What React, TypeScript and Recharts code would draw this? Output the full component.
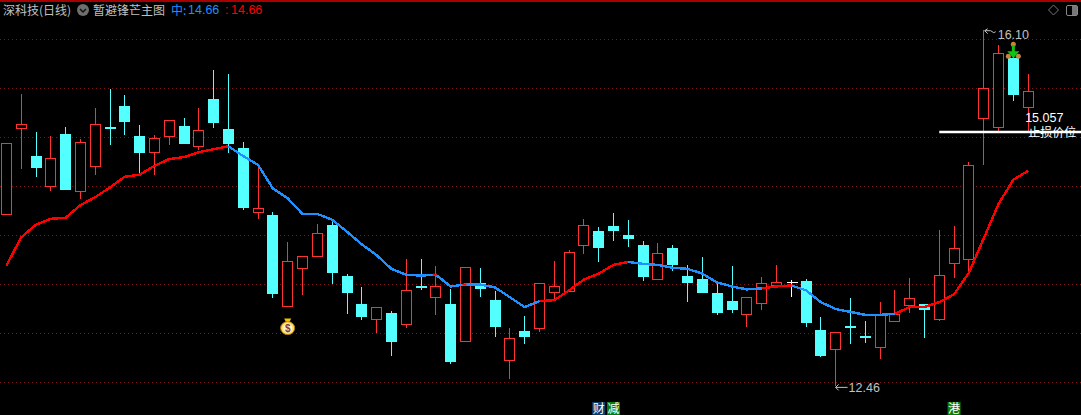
import React from 'react';
import {
  Bar,
  CartesianGrid,
  ComposedChart,
  Line,
  ReferenceDot,
  ReferenceLine,
  XAxis,
  YAxis,
} from 'recharts';

const opens = [
  14.22, 15.1, 14.81, 14.5, 15.04, 14.45, 14.71, 15.11, 15.32, 15.02,
  14.85, 15.02, 15.12, 14.91, 15.39, 15.09, 14.89, 14.24, 14.21, 13.28,
  13.67, 13.79, 14.11, 13.59, 13.3, 13.15, 13.21, 13.1, 13.48, 13.37,
  13.3, 12.92, 13.52, 13.34, 12.73, 13.03, 13.06, 13.42, 13.43, 13.9,
  14.05, 14.1, 14.0, 13.9, 13.56, 13.87, 13.59, 13.56, 13.41, 13.33,
  13.2, 13.31, 13.49, 13.53, 13.54, 13.04, 12.84, 13.08, 12.97, 12.86,
  13.13, 13.29, 13.3, 13.15, 13.72, 13.76, 15.2, 15.11, 15.81, 15.31,
];
const closes = [
  14.94, 15.14, 14.69, 14.79, 14.46, 14.95, 15.14, 15.1, 15.16, 14.84,
  14.99, 15.18, 14.93, 15.08, 15.15, 14.93, 14.28, 14.28, 13.4, 13.74,
  13.79, 14.03, 13.62, 13.41, 13.17, 13.27, 12.91, 13.44, 13.46, 13.48,
  12.71, 13.68, 13.45, 13.07, 12.95, 12.96, 13.51, 13.48, 13.83, 14.11,
  13.87, 14.05, 13.96, 13.58, 13.82, 13.7, 13.52, 13.41, 13.21, 13.24,
  13.37, 13.52, 13.53, 13.53, 13.11, 12.77, 13.01, 13.06, 12.95, 13.2,
  13.2, 13.36, 13.24, 13.6, 13.87, 14.72, 15.5, 15.86, 15.43, 15.47,
];
const highs = [
  14.94, 15.44, 15.06, 15.02, 15.11, 14.98, 15.3, 15.49, 15.43, 15.13,
  15.03, 15.18, 15.2, 15.3, 15.69, 15.65, 14.95, 14.73, 14.24, 13.93,
  13.79, 14.12, 14.14, 13.61, 13.47, 13.27, 13.23, 13.76, 13.76, 13.69,
  13.45, 13.68, 13.67, 13.43, 13.06, 13.18, 13.51, 13.74, 13.85, 14.17,
  14.09, 14.23, 14.16, 13.94, 13.92, 13.9, 13.7, 13.78, 13.51, 13.69,
  13.37, 13.58, 13.7, 13.55, 13.56, 13.17, 13.01, 13.36, 13.13, 13.32,
  13.44, 13.57, 13.3, 14.06, 14.1, 14.75, 16.1, 15.94, 15.86, 15.65,
];
const lows = [
  14.22, 14.68, 14.6, 14.45, 14.46, 14.37, 14.62, 14.92, 15.03, 14.64,
  14.62, 14.92, 14.93, 14.87, 15.1, 14.84, 14.26, 14.17, 13.36, 13.27,
  13.39, 13.79, 13.5, 13.2, 13.14, 13.0, 12.77, 13.06, 13.44, 13.19,
  12.69, 12.92, 13.37, 12.96, 12.54, 12.89, 13.02, 13.34, 13.43, 13.81,
  13.73, 13.94, 13.88, 13.54, 13.56, 13.64, 13.32, 13.41, 13.19, 13.21,
  13.07, 13.24, 13.49, 13.37, 13.07, 12.76, 12.46, 12.89, 12.9, 12.74,
  13.13, 13.21, 12.95, 13.13, 13.57, 13.61, 14.72, 15.07, 15.37, 15.06,
];
const midLine = [
  13.69, 13.98, 14.11, 14.17, 14.18, 14.31, 14.39, 14.49, 14.6, 14.62,
  14.71, 14.78, 14.8, 14.85, 14.88, 14.91, 14.81, 14.72, 14.48, 14.38,
  14.22, 14.22, 14.16, 14.04, 13.91, 13.8, 13.66, 13.6, 13.59, 13.6,
  13.48, 13.5, 13.5, 13.47, 13.37, 13.27, 13.33, 13.34, 13.44, 13.55,
  13.61, 13.7, 13.73, 13.71, 13.7, 13.67, 13.66, 13.61, 13.52, 13.48,
  13.45, 13.46, 13.48, 13.49, 13.44, 13.32, 13.25, 13.22, 13.19, 13.19,
  13.2, 13.27, 13.27, 13.32, 13.4, 13.62, 13.97, 14.32, 14.57, 14.66,
];
// index ranges of the middle line drawn in red, the rest is blue
const redSpans = [[0, 15], [36, 42], [51, 53], [60, 69]];
const blueSpans = [[15, 36], [42, 51], [53, 60]];
const redTips = [29, 31];
const gridPrices = [16, 15.5, 15, 14.5, 14, 13.5, 13, 12.5];
const bottomTags = [
  { idx: 40, text: '财', color: '#0b3d6e' },
  { idx: 41, text: '减', color: '#0a7d0a' },
  { idx: 64, text: '港', color: '#0a7d0a' },
];
const stopPrice = 15.057;
const moneyBag = { idx: 19, price: 13.07 };
const tagPrice = 12.24;

const inSpans = (i: number, spans: number[][]) => spans.some(([a, b]) => i >= a && i <= b);

const chartData = opens.map((open, i) => ({
  idx: i,
  open,
  close: closes[i],
  high: highs[i],
  low: lows[i],
  range: [lows[i], highs[i]],
  red: inSpans(i, redSpans) ? midLine[i] : null,
  blue: inSpans(i, blueSpans) ? midLine[i] : null,
  tip: redTips.includes(i) ? midLine[i] : null,
}));

const UP = '#ff3232';
const DOWN = '#54ffff';
const LABEL = '#c0c0c0';
const LATIN = '"Liberation Sans", Arial, sans-serif';
const CJK = '"Noto Sans CJK SC", sans-serif';

// wick and body, the body edges come from the bar's own pixel range
function Candle(props: any) {
  const { x, y, width, height, payload } = props;
  const { open, close, high, low } = payload;
  const perUnit = height / (high - low);
  const cx = Math.floor(x + width / 2) + 0.5;
  const top = Math.round(y + (high - Math.max(open, close)) * perUnit);
  const bottom = Math.round(y + (high - Math.min(open, close)) * perUnit);
  const wickTop = Math.round(y);
  const wickBottom = Math.round(y + height);

  if (open === close) {
    return (
      <g shapeRendering="crispEdges" stroke="#fff">
        <line x1={cx} x2={cx} y1={wickTop} y2={wickBottom} />
        <line x1={cx - 5} x2={cx + 6} y1={top + 0.5} y2={top + 0.5} />
      </g>
    );
  }
  if (close > open) {
    return (
      <g shapeRendering="crispEdges">
        <line x1={cx} x2={cx} y1={wickTop} y2={wickBottom} stroke={UP} />
        <rect x={cx - 5} y={top + 0.5} width={10} height={Math.max(bottom - top, 1)} fill="#000" stroke={UP} />
      </g>
    );
  }
  return (
    <g shapeRendering="crispEdges">
      <line x1={cx} x2={cx} y1={wickTop} y2={wickBottom} stroke={DOWN} />
      <rect x={cx - 5.5} y={top} width={11} height={Math.max(bottom - top, 2)} fill={DOWN} />
    </g>
  );
}

function HighMark({ cx, cy }: any) {
  return (
    <g>
      <path d={`M${cx + 1} ${cy + 1}h6M${cx + 1} ${cy + 1}l3 -2M${cx + 1} ${cy + 1}l3 3M${cx + 7} ${cy + 1}l3 2l2 -1`} stroke={LABEL} fill="none" />
      <text x={cx + 14} y={cy + 9} fill={LABEL} fontFamily={LATIN} fontSize={12.5}>16.10</text>
    </g>
  );
}

function LowMark({ cx, cy }: any) {
  return (
    <g>
      <path d={`M${cx} ${cy + 1}h12M${cx} ${cy + 1}l3 -3M${cx} ${cy + 1}l3 3`} stroke={LABEL} fill="none" />
      <text x={cx + 13} y={cy + 6} fill={LABEL} fontFamily={LATIN} fontSize={12.5}>12.46</text>
    </g>
  );
}

function StopLabel({ cx, cy }: any) {
  return (
    <g fill="#fff">
      <text x={cx - 3} y={cy - 10} fontFamily={LATIN} fontSize={12.5}>15.057</text>
      <text x={cx} y={cy + 5} fontFamily={CJK} fontSize={12}>止损价位</text>
    </g>
  );
}

function SignalArrow({ cx, cy }: any) {
  return (
    <g>
      <circle cx={cx} cy={cy - 9} r={2.5} fill="#c8843a" />
      <circle cx={cx - 5} cy={cy + 3} r={2.5} fill="#c8843a" />
      <circle cx={cx + 5} cy={cy + 3} r={2.5} fill="#c8843a" />
      <path d={`M${cx - 1.5} ${cy - 8}h3v6h4.5l-6 7l-6 -7h4.5z`} fill="#12c212" />
    </g>
  );
}

function BagIcon({ cx, cy }: any) {
  return (
    <g>
      <path d={`M${cx - 3.5} ${cy - 8}h7l-2 4h-3z`} fill="#f2c200" />
      <ellipse cx={cx} cy={cy + 1.5} rx={7} ry={6.5} fill="#ffe16a" stroke="#b07a00" />
      <ellipse cx={cx} cy={cy + 1.5} rx={4.5} ry={4.5} fill="#fff4d0" />
      <text x={cx} y={cy + 5} textAnchor="middle" fill="#8a3a2a" fontFamily={LATIN} fontSize={10} fontWeight="bold">$</text>
    </g>
  );
}

function TagBox({ cx, cy, color, text }: any) {
  return (
    <g>
      <rect x={cx - 6.5} y={cy - 6} width={13} height={13} fill={color} />
      <text x={cx} y={cy + 5} textAnchor="middle" fill="#fff" fontFamily={CJK} fontSize={12}>{text}</text>
    </g>
  );
}

function TipDot({ cx, cy, value }: any) {
  if (value == null) return <g key={cx} />;
  return <rect key={cx} x={cx - 3} y={cy - 1} width={4} height={2} fill="#ff0000" />;
}

export default function App() {
  return (
    <div style={{ position: 'absolute', left: 0, top: 0, width: 1081, height: 415, background: '#000', overflow: 'hidden' }}>
      <ComposedChart
        width={1081}
        height={415}
        data={chartData}
        margin={{ top: 0, right: 0, bottom: 0, left: 0 }}
        style={{ position: 'absolute', left: 0, top: 0 }}
      >
        <CartesianGrid
          vertical={false}
          horizontalValues={gridPrices}
          stroke="#801414"
          strokeDasharray="1 3"
          shapeRendering="crispEdges"
        />
        <XAxis dataKey="idx" type="number" domain={[-0.425, 72.57]} allowDataOverflow hide />
        <YAxis type="number" domain={[12.168, 16.403]} allowDataOverflow hide />
        <Bar dataKey="range" barSize={11} shape={Candle} isAnimationActive={false} />
        <Line dataKey="red" stroke="#ff0000" strokeWidth={2.4} shapeRendering="crispEdges" dot={false} isAnimationActive={false} />
        <Line dataKey="blue" stroke="#1e90ff" strokeWidth={2.4} shapeRendering="crispEdges" dot={false} isAnimationActive={false} />
        <Line dataKey="tip" stroke="none" dot={TipDot} activeDot={false} isAnimationActive={false} />
        <ReferenceLine
          segment={[{ x: 63, y: stopPrice }, { x: 72.57, y: stopPrice }]}
          stroke="#fff"
          strokeWidth={2.5}
        />
        <ReferenceDot x={69} y={stopPrice} r={0} shape={StopLabel} />
        <ReferenceDot x={66} y={highs[66]} r={0} shape={HighMark} />
        <ReferenceDot x={56} y={lows[56]} r={0} shape={LowMark} />
        <ReferenceDot x={68} y={highs[68]} r={0} shape={SignalArrow} />
        <ReferenceDot x={moneyBag.idx} y={moneyBag.price} r={0} shape={BagIcon} />
        {bottomTags.map((t) => (
          <ReferenceDot
            key={t.text}
            x={t.idx}
            y={tagPrice}
            r={0}
            shape={(p: any) => <TagBox {...p} color={t.color} text={t.text} />}
          />
        ))}
      </ComposedChart>

      <svg width={1081} height={24} style={{ position: 'absolute', left: 0, top: 0 }}>
        <rect x={0} y={0} width={1081} height={2} fill="#a80000" />
        <text x={3} y={15} fill={LABEL} fontFamily={CJK} fontSize={12}>深科技(日线)</text>
        <circle cx={83} cy={10} r={6} fill="#6e6e6e" />
        <path d="M80 9l3 3l3 -3" stroke="#111" strokeWidth={1.5} fill="none" />
        <text x={93} y={15} fill={LABEL} fontFamily={CJK} fontSize={12}>暂避锋芒主图</text>
        <text x={171} y={15} fill="#1e90ff" fontFamily={CJK} fontSize={12}>中:</text>
        <text x={188} y={14} fill="#1e90ff" fontFamily={LATIN} fontSize={12.5}>14.66</text>
        <text x={225} y={14} fill="#ff0000" fontFamily={LATIN} fontSize={12.5}>:</text>
        <text x={231} y={14} fill="#ff0000" fontFamily={LATIN} fontSize={12.5}>14.66</text>
        <path d="M1053.5 5l5 5l-5 5l-5 -5z" stroke="#777" fill="none" />
        <rect x={1066.5} y={5.5} width={11} height={10} rx={1.5} stroke="#888" fill="none" />
        <rect x={1072} y={6} width={5} height={9} fill="#777" />
      </svg>
    </div>
  );
}
